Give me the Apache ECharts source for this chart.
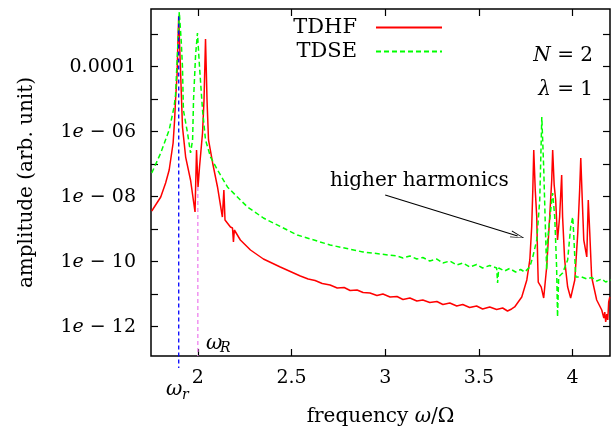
<!DOCTYPE html>
<html><head><meta charset="utf-8">
<script src="https://cdn.jsdelivr.net/npm/echarts@6/dist/echarts.min.js"></script>
<style>html,body{margin:0;padding:0;background:#fff}#c{width:611px;height:426px}</style>
</head><body><div id="c"></div>
<script>
// ---- axis ticks / labels ----
const xMin = 1.75, xMax = 4.2;
const yMin = 1.254e-13, yMax = 5.963e-3;
const xTickValues = [2, 2.5, 3, 3.5, 4];
const xTickLabels = ['2', '2.5', '3', '3.5', '4'];
const yTickValues = [1e-3, 1e-4, 1e-5, 1e-6, 1e-7, 1e-8, 1e-9, 1e-10, 1e-11, 1e-12];
const yLabelValues = [1e-4, 1e-6, 1e-8, 1e-10, 1e-12];
const yTickLabels = ['0.0001', '1{i|e} − 06', '1{i|e} − 08', '1{i|e} − 10', '1{i|e} − 12'];
const seriesNames = ['TDHF', 'TDSE'];

// ---- TDHF (red) ----
const tdhfFreq = [1.754,1.802,1.828,1.847,1.868,1.876,1.881,1.889,1.894,1.898,1.902,1.907,1.918,1.935,1.961,1.985,1.993,2.001,2.009,2.025,2.033,2.041,2.049,2.057,2.079,2.105,2.131,2.139,2.145,2.153,2.174,2.185,2.190,2.195,2.227,2.281,2.350,2.440,2.547,2.589,2.626,2.664,2.706,2.744,2.781,2.813,2.850,2.882,2.919,2.956,2.988,3.026,3.063,3.095,3.132,3.169,3.201,3.238,3.276,3.308,3.345,3.382,3.414,3.451,3.488,3.520,3.558,3.595,3.627,3.653,3.675,3.691,3.729,3.756,3.772,3.782,3.788,3.793,3.801,3.809,3.814,3.817,3.833,3.846,3.862,3.878,3.889,3.894,3.902,3.910,3.920,3.931,3.942,3.947,3.958,3.974,3.990,4.012,4.028,4.038,4.044,4.052,4.060,4.076,4.084,4.092,4.102,4.129,4.156,4.167,4.172,4.177,4.183,4.188,4.193,4.199];
const tdhfAmp = [3.63e-9,9.8e-9,2.64e-8,6.63e-8,4.49e-7,2.29e-6,9.45e-6,5.56e-5,6.63e-4,3.63e-3,6.63e-4,9.8e-5,1.40e-6,1.66e-7,3.27e-8,3.38e-9,2.74e-7,1.99e-8,8.2e-8,9.12e-7,9.45e-6,7.11e-4,9.45e-6,5.56e-7,1.09e-7,1.99e-8,2.37e-9,1.61e-8,1.92e-9,1.67e-9,1.17e-9,1.09e-9,4.04e-10,9.45e-10,4.65e-10,2.29e-10,1.21e-10,6.87e-11,3.63e-11,2.94e-11,2.64e-11,2.13e-11,1.92e-11,1.55e-11,1.61e-11,1.30e-11,1.35e-11,1.13e-11,1.09e-11,9.12e-12,1.01e-11,8.2e-12,8.5e-12,6.87e-12,7.64e-12,6.18e-12,6.63e-12,5.56e-12,5.96e-12,4.82e-12,5.36e-12,4.34e-12,4.82e-12,3.90e-12,4.34e-12,3.51e-12,4.04e-12,3.38e-12,3.76e-12,3.04e-12,3.51e-12,4.04e-12,8.2e-12,2.74e-11,1.13e-10,1.17e-9,1.61e-8,2.74e-7,1.61e-8,2.37e-9,9.8e-11,2.37e-11,1.66e-11,7.64e-12,6.87e-11,2.37e-9,3.27e-8,2.74e-7,2.29e-8,7.91e-9,4.65e-10,2.37e-9,4.65e-8,2.37e-9,1.13e-10,1.66e-11,7.64e-12,2.74e-11,7.64e-10,1.61e-8,1.55e-7,7.91e-9,4.65e-10,1.40e-10,7.91e-9,7.64e-10,3.38e-11,6.63e-12,3.27e-12,1.85e-12,2.83e-12,1.40e-12,2.46e-12,1.61e-12,5.75e-12,8.2e-12];

// ---- TDSE (green dashed) ----
const tdseFreq = [1.754,1.802,1.847,1.873,1.881,1.892,1.901,1.911,1.918,1.923,1.945,1.961,1.972,1.977,1.988,1.998,2.009,2.025,2.041,2.068,2.105,2.158,2.227,2.265,2.350,2.531,2.706,2.882,3.063,3.095,3.132,3.169,3.201,3.238,3.276,3.308,3.345,3.382,3.414,3.451,3.488,3.520,3.558,3.595,3.600,3.606,3.638,3.664,3.696,3.723,3.745,3.772,3.788,3.809,3.825,3.836,3.846,3.857,3.862,3.867,3.889,3.894,3.905,3.915,3.920,3.926,3.947,3.974,3.990,4.001,4.006,4.017,4.049,4.076,4.102,4.129,4.156,4.177,4.204];
const tdseAmp = [5.36e-8,2.21e-7,1.13e-6,5.75e-6,1.35e-5,3.27e-4,4.82e-3,6.63e-4,9.8e-5,4.65e-6,9.12e-7,2.21e-7,5.56e-7,9.45e-6,2.29e-4,1.09e-3,9.8e-5,4.65e-6,5.56e-7,1.66e-7,6.63e-8,1.99e-8,7.91e-9,4.82e-9,2.21e-9,6.63e-10,3.27e-10,1.99e-10,1.50e-10,1.30e-10,1.50e-10,1.21e-10,1.35e-10,1.05e-10,1.21e-10,9.12e-11,1.05e-10,7.91e-11,9.12e-11,6.87e-11,8.2e-11,6.4e-11,7.64e-11,6.4e-11,2.21e-11,6.4e-11,5.18e-11,6.18e-11,4.82e-11,5.75e-11,4.82e-11,6.87e-11,1.40e-10,4.65e-10,7.91e-9,2.83e-6,8.2e-8,4.65e-10,5.55e-11,4.65e-10,7.91e-9,1.30e-8,2.37e-9,6.87e-11,1.99e-12,3.38e-11,4.49e-11,1.13e-10,1.17e-9,2.37e-9,7.64e-10,3.38e-11,3.38e-11,2.94e-11,3.27e-11,2.55e-11,2.94e-11,2.37e-11,2.74e-11];

// ---- reference lines and arrow ----
const omegaSmallFreq = [1.898, 1.898];
const omegaSmallAmp = [3.5e-3, 5.4e-14];
const omegaBigFreq = [2.0, 2.0];
const omegaBigAmp = [1.99e-8, 1.254e-13];
const arrowFreq = [3.0, 3.707];
const arrowAmp = [1.13e-8, 6.18e-10];

const font = 'DejaVu Serif';
const pairs = (xs, ys) => xs.map((x, i) => [x, ys[i]]);
const near = (a, b) => Math.abs(a - b) < 1e-6;
const yLabelFmt = v => {
  const k = yLabelValues.findIndex(t => near(Math.log10(t), Math.log10(v)) || near(Math.log10(t), v));
  return k >= 0 ? yTickLabels[k] : '';
};
const xLabelFmt = v => {
  const k = xTickValues.findIndex(t => near(t, v));
  return k >= 0 ? xTickLabels[k] : '';
};
const tickStyle = {inside: true, length: 7, lineStyle: {color: '#000', width: 1.2}};

const chart = echarts.init(document.getElementById('c'));
chart.setOption({
  animation: false,
  backgroundColor: '#fff',
  grid: {left: 151, right: 1, top: 9, bottom: 70, containLabel: false, outerBoundsMode: 'none',
         show: true, borderColor: '#000', borderWidth: 1.5, backgroundColor: 'transparent'},
  legend: {
    data: seriesNames, orient: 'vertical', align: 'right', right: 163, top: 12,
    itemWidth: 66, itemHeight: 14, itemGap: 3,
    itemStyle: {opacity: 0},
    textStyle: {fontFamily: font, fontSize: 21, color: '#000', padding: [0, 14, 0, 0]}
  },
  xAxis: [
    {type: 'value', min: xMin, max: xMax, position: 'bottom', splitLine: {show: false}, axisLine: {show: false},
     axisTick: Object.assign({customValues: xTickValues}, tickStyle),
     axisLabel: {customValues: xTickValues, formatter: xLabelFmt, margin: 13, color: '#000', fontFamily: font, fontSize: 19},
     name: 'frequency {i|ω}/Ω', nameLocation: 'middle', nameGap: 51,
     nameTextStyle: {color: '#000', fontFamily: font, fontSize: 20, rich: {i: {fontStyle: 'italic', fontFamily: font, fontSize: 20}}}},
    {type: 'value', min: xMin, max: xMax, position: 'top', splitLine: {show: false}, axisLine: {show: false},
     axisTick: Object.assign({customValues: xTickValues}, tickStyle), axisLabel: {show: false}}
  ],
  yAxis: [
    {type: 'log', logBase: 10, min: yMin, max: yMax, position: 'left', splitLine: {show: false}, axisLine: {show: false},
     axisTick: Object.assign({customValues: yTickValues}, tickStyle),
     axisLabel: {customValues: yLabelValues, formatter: yLabelFmt, margin: 15, color: '#000', fontFamily: font, fontSize: 19,
                 rich: {i: {fontStyle: 'italic', fontFamily: font, fontSize: 19, color: '#000'}}},
     name: 'amplitude (arb. unit)', nameLocation: 'middle', nameGap: 114, nameRotate: 90,
     nameTextStyle: {color: '#000', fontFamily: font, fontSize: 20}},
    {type: 'log', logBase: 10, min: yMin, max: yMax, position: 'right', splitLine: {show: false}, axisLine: {show: false},
     axisTick: Object.assign({customValues: yTickValues}, tickStyle), axisLabel: {show: false}}
  ],
  series: [
    {type: 'line', name: 'TDHF', data: pairs(tdhfFreq, tdhfAmp), symbol: 'none', showSymbol: false,
     lineStyle: {color: '#ff0000', width: 1.5}, itemStyle: {color: '#ff0000'}},
    {type: 'line', name: 'TDSE', data: pairs(tdseFreq, tdseAmp), symbol: 'none', showSymbol: false,
     lineStyle: {color: '#00ff00', width: 1.5, type: [5, 3]}, itemStyle: {color: '#00ff00'}},
    {type: 'line', name: 'omega_r', data: pairs(omegaSmallFreq, omegaSmallAmp), symbol: 'none', clip: false, silent: true,
     lineStyle: {color: '#0000ff', width: 1.3, type: [4, 3]}},
    {type: 'line', name: 'omega_R', data: pairs(omegaBigFreq, omegaBigAmp), symbol: 'none', clip: false, silent: true,
     lineStyle: {color: '#ee82ee', width: 1.3, type: [4, 3]},
     markLine: {silent: true, symbol: ['none', 'path://M5,0 L10,16 L8.8,16 L5,2.5 L1.2,16 L0,16 Z'], symbolSize: [7, 14],
                label: {show: false}, lineStyle: {color: '#000', width: 1.2, type: 'solid'},
                data: [[{coord: [arrowFreq[0], arrowAmp[0]]}, {coord: [arrowFreq[1], arrowAmp[1]]}]]}}
  ],
  graphic: [
    {type: 'text', left: 330, top: 171, style: {text: 'higher harmonics', fontFamily: font, fontSize: 20, fill: '#000'}},
    {type: 'text', right: 18, top: 46, style: {text: '{i|N} = 2', fontFamily: font, fontSize: 20, fill: '#000', rich: {i: {fontStyle: 'italic', fontFamily: font, fontSize: 20}}}},
    {type: 'text', right: 18, top: 80, style: {text: '{i|λ} = 1', fontFamily: font, fontSize: 20, fill: '#000', rich: {i: {fontStyle: 'italic', fontFamily: font, fontSize: 20}}}},
    {type: 'text', left: 206, top: 334, style: {text: 'ω', fontFamily: font, fontSize: 20, fontStyle: 'italic', fill: '#000'}},
    {type: 'text', left: 220, top: 341, style: {text: 'R', fontFamily: font, fontSize: 14, fontStyle: 'italic', fill: '#000'}},
    {type: 'text', left: 166, top: 380, style: {text: 'ω', fontFamily: font, fontSize: 20, fontStyle: 'italic', fill: '#000'}},
    {type: 'text', left: 182, top: 388, style: {text: 'r', fontFamily: font, fontSize: 14, fontStyle: 'italic', fill: '#000'}}
  ]
});
</script></body></html>
